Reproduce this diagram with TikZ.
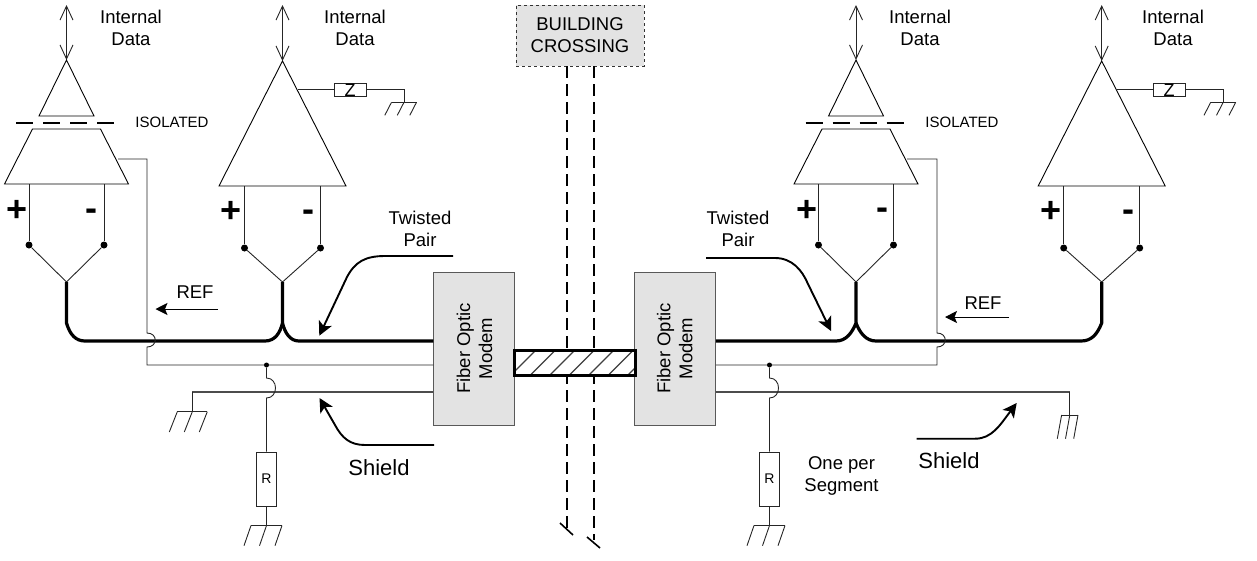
\documentclass[tikz,border=0pt]{standalone}
\usepackage{fontspec}
\setmainfont{Liberation Sans}
\usetikzlibrary{arrows.meta}
\definecolor{boxgray}{HTML}{E3E3E3}
\tikzset{
        wire/.style={draw=black!85,line width=0.9pt},
        shieldwire/.style={draw=black!70,line width=1.3pt},
        pairwire/.style={draw=black,line width=3.2pt,line join=round},
        dataarrow/.style={wire,{Straight Barb[length=14pt,width=13pt]}-{Straight Barb[length=14pt,width=13pt]}},
        callout/.style={draw=black,line width=1.9pt,-{Stealth[length=14pt,width=14pt,inset=3.5pt]}},
        reflead/.style={draw=black,line width=0.9pt,-{Stealth[length=12pt,width=12pt,inset=2.5pt]}},
        amp/.style={draw=black,line width=0.9pt,line join=miter},
        tag/.style={font=\fontsize{18.5}{22}\selectfont,align=center,inner sep=0pt},
        sign/.style={font=\fontsize{36}{36}\bfseries\selectfont,inner sep=0pt},
        pin/.style={circle,fill=black,inner sep=0pt,minimum size=7pt},
        tap/.style={circle,fill=black,inner sep=0pt,minimum size=5pt},
        modem/.style={draw=black!65,line width=1pt,fill=boxgray,rotate=90,minimum width=153pt,minimum height=81pt,inner sep=0pt,tag},
        resbox/.style={draw=black!85,line width=0.9pt,fill=white,inner sep=0pt},
        trunk/.style={draw=black,line width=2pt,dash pattern=on 12pt off 6pt}
}
\newcommand{\gnd}[5]{
        \draw[wire] (#1-#3,#2) -- (#1+#3,#2);
        \foreach \s in {-1,0,1}
        {
            \draw[wire] (#1+\s*#3,#2) -- ++(-#5,#4);
        }
}
\begin{document}
\begin{tikzpicture}[x=1pt,y=-1pt]
        \useasboundingbox (0,0) rectangle (1257,560);

        \node[draw=black!80,dashed,line width=0.9pt,fill=boxgray,minimum width=128pt,minimum height=61pt,inner sep=0pt,tag] (crossing) at (580,35.5) {BUILDING\\CROSSING};
        \coordinate (trunkl) at (566.5,530);
        \coordinate (trunkr) at (593.5,540);
        \draw[trunk] (566.5,66) -- (trunkl);
        \draw[trunk] (593.5,66) -- (trunkr);
        \draw[draw=black,line width=1.6pt] (560,523) -- (573,535);
        \draw[draw=black,line width=1.6pt] (587,537) -- (600,548);

        \node[modem] (modeml) at (474.4,348.5) {Fiber Optic\\Modem};
        \node[modem] (modemr) at (674.8,348.5) {Fiber Optic\\Modem};

        \begin{scope}
            \clip (514,350) rectangle (635,375);
            \fill[white] (514,350) rectangle (635,375);
            \foreach \x in {0,...,8}
            {
                \draw[black!75,line width=1.3pt] (506+\x*19.5,380) -- ++(35,-35);
            }
        \end{scope}
        \node[draw=black,line width=3pt,minimum width=121pt,minimum height=25pt,inner sep=0pt] (fiber) at (574.5,362.5) {};

        \foreach \n/\cx in {a/66.5,c/856}
        {
            \coordinate (apex\n) at (\cx,60);
            \draw[dataarrow] (\cx,5) -- (apex\n);
            \draw[amp] (apex\n) -- (\cx+27.5,116) -- (\cx-27.5,116) -- cycle;
            \foreach \d in {-50.5,-23.5,3.5,30.5}
            {
                \draw[draw=black,line width=2pt] (\cx+\d,122.5) -- ++(17,0);
            }
            \draw[amp] (\cx-34,129) -- (\cx+34,129) -- (\cx+62,184) -- (\cx-62,184) -- cycle;
            \node[pin] (plus\n) at (\cx-37.5,245) {};
            \node[pin] (minus\n) at (\cx+37.5,245) {};
            \coordinate (stem\n) at (\cx,282);
            \draw[wire] (\cx-37.5,184) -- (plus\n);
            \draw[wire] (\cx+37.5,184) -- (minus\n);
            \draw[wire] (plus\n) -- (stem\n) -- (minus\n);
        }

        \foreach \n/\cx in {b/282.5,d/1101.7}
        {
            \coordinate (apex\n) at (\cx,61);
            \draw[dataarrow] (\cx,5) -- (apex\n);
            \draw[amp] (apex\n) -- (\cx+63.5,186) -- (\cx-63.5,186) -- cycle;
            \node[pin] (plus\n) at (\cx-38,248) {};
            \node[pin] (minus\n) at (\cx+38,248) {};
            \coordinate (stem\n) at (\cx,282);
            \draw[wire] (\cx-38,186) -- (plus\n);
            \draw[wire] (\cx+38,186) -- (minus\n);
            \draw[wire] (plus\n) -- (stem\n) -- (minus\n);
            \node[resbox,minimum width=32pt,minimum height=13pt,font=\fontsize{18}{18}\selectfont,text height=13pt,text depth=0pt] (z\n) at (\cx+67.5,89.5) {Z};
            \coordinate (gnd\n) at (\cx+121.5,102.3);
            \draw[wire] (\cx+15.5,89.5) -- (z\n);
            \draw[wire] (z\n) -| (gnd\n);
            \gnd{\cx+121.5}{102.3}{12.5}{13}{6.7}
        }

        \draw[pairwire] (stema) -- (66.5,323) .. controls (70,335) and (76,341) .. (85,341) -- (265,341) .. controls (275,341) and (280,333) .. (282.5,323) -- (stemb);
        \draw[pairwire] (282.5,323) .. controls (285,333) and (290,341) .. (299,341) -- (modeml.north |- 0,341);
        \draw[pairwire] (modemr.south |- 0,341) -- (836,341) .. controls (846,341) and (852,333) .. (856,323) -- (stemc);
        \draw[pairwire] (856,323) .. controls (860,333) and (866,341) .. (876,341) -- (1081,341) .. controls (1091,341) and (1097,335) .. (1101.7,323) -- (stemd);

        \draw[wire] (118,159) -- (147,159) -- (147,333) .. controls (158,333) and (158,347) .. (147,347) -- (147,365) -- (modeml.north |- 0,365);
        \draw[wire] (modemr.south |- 0,365) -- (937,365) -- (937,347) .. controls (948,347) and (948,333) .. (937,333) -- (937,159) -- (907,159);

        \draw[shieldwire] (192,392) -- (modeml.north |- 0,392);
        \draw[wire] (192,392) -- (192,411.7);
        \gnd{192.3}{411.7}{15}{20.3}{8}
        \draw[shieldwire] (modemr.south |- 0,392) -- (1069.7,392);
        \draw[wire] (1069.7,392) -- (1069.7,415);
        \gnd{1069.8}{415}{8.2}{23.7}{4.3}

        \foreach \n/\cx in {l/266.5,r/769.5}
        {
            \node[tap] (tap\n) at (\cx,365) {};
            \node[resbox,minimum width=20pt,minimum height=54pt,font=\fontsize{14}{14}\selectfont] (r\n) at (\cx,479) {R};
            \coordinate (gnd\n) at (\cx,525.5);
            \draw[wire] (tap\n) -- (\cx,378) .. controls (\cx+12,378) and (\cx+12,398) .. (\cx,398) -- (r\n);
            \draw[wire] (r\n) -- (gnd\n);
            \gnd{\cx}{525.5}{15.5}{20.2}{7}
        }

        \foreach \cx in {131,355,920,1173}
        {
            \node[tag] at (\cx,28) {Internal\\Data};
        }
        \node[tag,font=\fontsize{15}{18}\selectfont] (isola) at (172,122) {ISOLATED};
        \node[tag,font=\fontsize{15}{18}\selectfont] (isolc) at (962,122) {ISOLATED};

        \node[sign] at (17,211) {+};
        \node[sign] at (91,215) {-};
        \node[sign] at (231,212) {+};
        \node[sign] at (308,216) {-};
        \node[sign] at (807,211) {+};
        \node[sign] at (882,214) {-};
        \node[sign] at (1051,212) {+};
        \node[sign] at (1128,216) {-};

        \node[tag] (twistl) at (420,228.5) {Twisted\\Pair};
        \node[tag] (twistr) at (738,228.5) {Twisted\\Pair};
        \node[tag] (refl) at (195,292) {REF};
        \node[tag] (refr) at (983,303.5) {REF};
        \node[tag,font=\fontsize{22}{24}\selectfont] (shieldl) at (379,468) {Shield};
        \node[tag,font=\fontsize{22}{24}\selectfont] (shieldr) at (949,460.5) {Shield};
        \node[tag] (segment) at (841.5,476) {One per\\Segment};

        \draw[reflead] (218,309) -- (155.5,309);
        \draw[reflead] (1009,317) -- (945,317);
        \draw[callout] (453,256) -- (385,256) .. controls (365,256) and (355,262) .. (347,277) -- (319.3,335.7);
        \draw[callout] (706,258) -- (775,258) .. controls (792,258) and (802,270) .. (808,284) -- (831,331);
        \draw[callout] (434,445) -- (365,445) .. controls (350,445) and (342,438) .. (335,425) -- (319.5,398);
        \draw[callout] (916.7,438.7) -- (975,438.7) .. controls (992,438.7) and (1000,425) .. (1016.7,403);
\end{tikzpicture}
\end{document}
